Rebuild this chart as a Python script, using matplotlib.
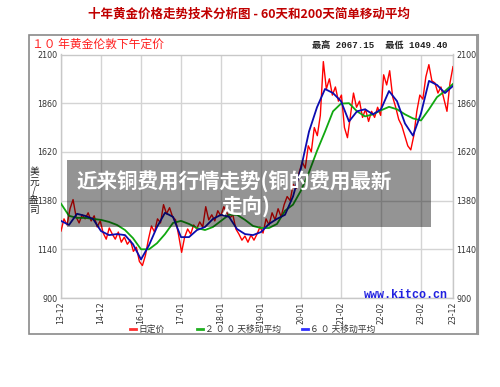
import numpy as np
import matplotlib.pyplot as plt
from matplotlib.patches import Rectangle

plt.rcParams['font.family'] = ['Noto Sans CJK SC', 'DejaVu Sans']

# Etiquetas del eje x (posiciones uniformes como en el gráfico original)
tick_labels = ['13-12', '14-12', '16-01', '17-01', '18-01', '19-01',
               '20-01', '21-02', '22-02', '23-02', '23-12']
tick_pos = [0, 1, 2, 3, 4, 5, 6, 7, 8, 9, 9.8]

# Precio diario (muestreado)
price = [1230, 1290, 1260, 1340, 1385, 1300, 1270, 1310, 1290, 1320,
         1280, 1305, 1250, 1280, 1220, 1190, 1245, 1215, 1190, 1225,
         1175, 1200, 1165, 1185, 1130, 1150, 1080, 1060, 1110, 1190,
         1255, 1225, 1290, 1270, 1360, 1315, 1345, 1300, 1285, 1210,
         1125, 1200, 1240, 1215, 1260, 1240, 1275, 1250, 1350, 1285,
         1310, 1280, 1330, 1305, 1350, 1320, 1295, 1310, 1240, 1215,
         1185, 1205, 1175, 1210, 1185, 1215, 1250, 1220, 1290, 1260,
         1320, 1285, 1340, 1300, 1360, 1400, 1380, 1460, 1440, 1520,
         1570, 1540, 1650, 1620, 1740, 1700, 1800, 2065, 1930, 1980,
         1900, 1940, 1870, 1900, 1740, 1690, 1800, 1910, 1840, 1870,
         1790, 1830, 1770, 1820, 1790, 1840, 1800, 2000, 1950, 2020,
         1890, 1840, 1780, 1750, 1700, 1650, 1630, 1700, 1820, 1900,
         1880, 1990, 2050, 1970, 1960, 1910, 1940, 1880, 1820, 1960,
         2040]

# Media móvil de 60 días
ma60 = [1280, 1260, 1315, 1305, 1290, 1230, 1210, 1215, 1210, 1165,
        1090, 1160, 1250, 1320, 1300, 1200, 1200, 1235, 1250, 1290,
        1310, 1300, 1240, 1215, 1210, 1225, 1265, 1290, 1310, 1400,
        1540, 1720, 1840, 1930, 1910, 1870, 1770, 1820, 1830, 1805,
        1830, 1920, 1870, 1760, 1700, 1810, 1970, 1950, 1910, 1945]

# Media móvil de 200 días
ma200 = [1365, 1305, 1295, 1295, 1290, 1285, 1275, 1260, 1235, 1195,
         1140, 1140, 1170, 1215, 1270, 1280, 1265, 1245, 1235, 1250,
         1280, 1310, 1310, 1285, 1255, 1245, 1245, 1265, 1330, 1360,
         1430, 1520, 1625, 1720, 1820, 1858, 1860, 1820, 1795, 1805,
         1825, 1842, 1830, 1805, 1785, 1775, 1830, 1890, 1920, 1955]

yticks = [900, 1140, 1380, 1620, 1860, 2100]

W, H = 500, 387
fig = plt.figure(figsize=(W / 100, H / 100), dpi=100)
fig.patch.set_facecolor('white')

def fx(px):
    return px / W

def fy(py):
    return 1 - py / H

# Marco exterior
fig.patches.append(Rectangle((fx(29), fy(334)), fx(477) - fx(29), fy(35) - fy(334),
                             transform=fig.transFigure, fill=False,
                             edgecolor='#8a8a8a', linewidth=1.2))
fig.lines.append(plt.Line2D([fx(478), fx(478)], [fy(334), fy(35)],
                            transform=fig.transFigure, color='#9a9a9a', linewidth=1.5))

ax = fig.add_axes([fx(61), fy(298), fx(453) - fx(61), fy(54.5) - fy(298)])

x_price = np.linspace(0, 9.8, len(price))
x_ma = np.linspace(0, 9.8, len(ma60))

ax.plot(x_price, price, color='#ff0000', linewidth=1.0, zorder=3)
ax.plot(x_ma, ma200, color='#10a810', linewidth=1.3, zorder=4)
ax.plot(x_ma, ma60, color='#0c0cb0', linewidth=1.3, zorder=5)

ax.set_xlim(0, 9.8)
ax.set_ylim(900, 2100)
ax.set_xticks(tick_pos)
ax.set_xticklabels(tick_labels, rotation=90, fontsize=5.6, color='#333333',
                   family='DejaVu Sans')
ax.set_yticks(yticks)
ax.set_yticklabels([str(v) for v in yticks], fontsize=5.8, color='#333333',
                   family='DejaVu Sans')
ax.tick_params(axis='both', length=0, pad=2.5)
ax.tick_params(axis='y', labelright=True, right=False)
ax.grid(True, color='#d4d4d4', linewidth=1.0)
ax.set_axisbelow(True)
for s in ax.spines.values():
    s.set_color('#c8c8c8')
    s.set_linewidth(1.0)

# Título
fig.text(0.497, fy(14), '十年黄金价格走势技术分析图 - 60天和200天简单移动平均',
         ha='center', va='center', fontsize=9, color='#c00000', fontweight='bold')

fig.text(fx(32), fy(44), '１０ 年黄金伦敦下午定价', ha='left', va='center',
         fontsize=8.5, color='#ff2020')
fig.text(fx(447), fy(46), '最高 2067.15  最低 1049.40', ha='right', va='center',
         fontsize=6.6, color='#222222', fontweight='bold',
         family=['Liberation Mono', 'Noto Sans CJK SC'])

# Unidad del eje y (caracteres apilados)
fig.text(fx(34), fy(191), '\n'.join(['美', '元', '/', '盎', '司']), ha='center', va='center',
         fontsize=7, color='#222222', linespacing=0.9)

fig.text(fx(448), fy(295), 'www.kitco.cn', ha='right', va='center', fontsize=8.5,
         color='#2020e0', fontweight='bold', family='Liberation Mono')

# Leyenda
leg = [('#ff3030', '日定价', 130), ('#20b020', '２ ０ ０ 天移动平均', 197),
       ('#3030ff', '６ ０ 天移动平均', 302)]
for col, txt, px in leg:
    fig.lines.append(plt.Line2D([fx(px), fx(px + 6)], [fy(329), fy(329)],
                                transform=fig.transFigure, color=col, linewidth=2))
    fig.text(fx(px + 8), fy(329), txt, ha='left', va='center', fontsize=6.3,
             color='#333333')

# Caja gris superpuesta
fig.patches.append(Rectangle((fx(67), fy(227)), fx(431) - fx(67), fy(160) - fy(227),
                             transform=fig.transFigure, facecolor='black',
                             alpha=0.42, edgecolor='none', zorder=10))
fig.text(fx(77), fy(181), '近来铜费用行情走势(铜的费用最新', ha='left', va='center',
         fontsize=14.8, color='white', fontweight='bold', zorder=11)
fig.text(fx(246), fy(206), '走向)', ha='center', va='center',
         fontsize=14.8, color='white', fontweight='bold', zorder=11)

fig.savefig('out.png', dpi=100, facecolor='white')
